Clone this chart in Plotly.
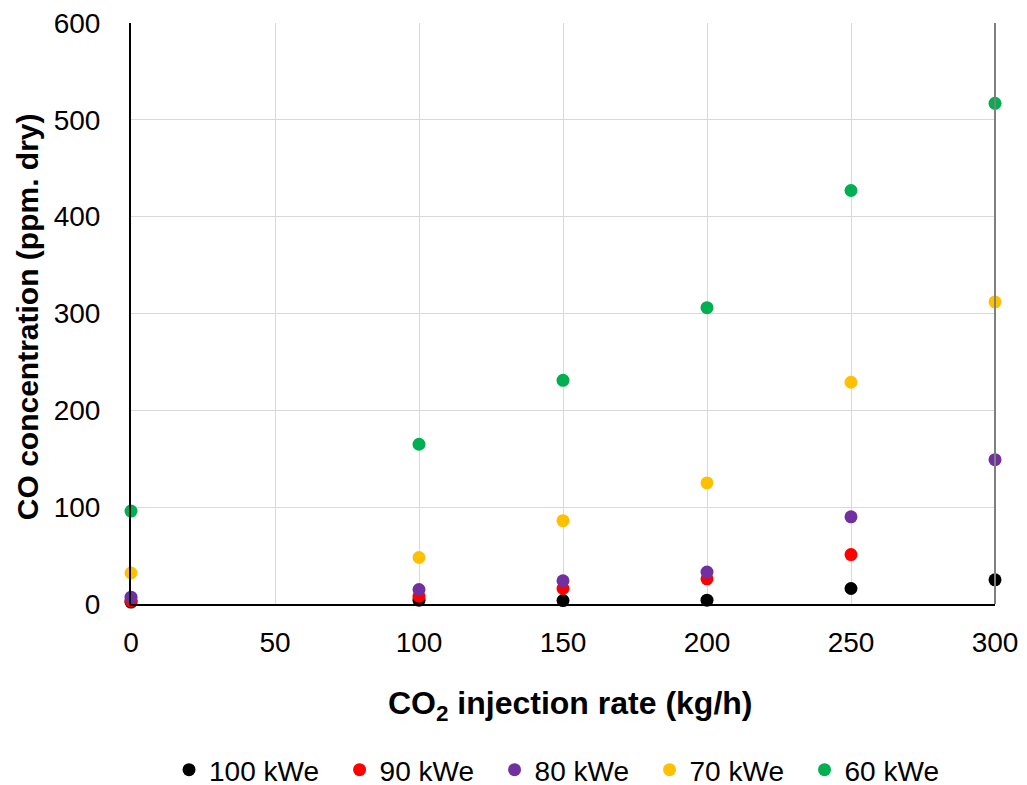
import plotly.graph_objects as go

# CO2 injection rate (kg/h)
injection_rate = [0, 100, 150, 200, 250, 300]

# CO concentration (ppm, dry) per electrical load
co_100kwe = [2, 4, 3.5, 4, 16, 25]
co_90kwe = [3, 8, 16, 26, 51, None]
co_80kwe = [7, 15, 24, 33, 90, 149]
co_70kwe = [32, 48, 86, 125, 229, 312]
co_60kwe = [96, 165, 231, 306, 427, 517]

series_names = ["100 kWe", "90 kWe", "80 kWe", "70 kWe", "60 kWe"]
series_values = [co_100kwe, co_90kwe, co_80kwe, co_70kwe, co_60kwe]
series_colors = ["#000000", "#ff0000", "#7030a0", "#ffc000", "#00b050"]

x_ticks = [0, 50, 100, 150, 200, 250, 300]
y_ticks = [0, 100, 200, 300, 400, 500, 600]

# Trailing non-breaking spaces widen the gap between legend entries
LEGEND_PAD = "\u00a0\u00a0"

fig = go.Figure()
for name, vals, color in zip(series_names, series_values, series_colors):
    fig.add_trace(go.Scatter(
        x=injection_rate, y=vals, name=name + LEGEND_PAD, mode="markers",
        marker=dict(size=13, color=color),
        cliponaxis=False,
    ))

font_family = "Liberation Sans, Arial, sans-serif"

fig.update_layout(
    width=1027, height=785,
    margin=dict(l=131, r=32, t=23, b=181, autoexpand=False),
    paper_bgcolor="white", plot_bgcolor="white",
    font=dict(family=font_family, size=28, color="black"),
    showlegend=True,
    legend=dict(
        orientation="h", x=0.044, xanchor="left", y=-0.2857, yanchor="middle",
        font=dict(size=28), itemsizing="trace",
    ),
    xaxis=dict(
        range=[0, 300], tickvals=x_ticks, ticktext=[str(v) for v in x_ticks],
        showgrid=True, gridcolor="#d9d9d9", gridwidth=1,
        zeroline=False, showline=True, linecolor="black", linewidth=2,
        ticks="", ticklabelstandoff=12, automargin=False,
        tickfont=dict(size=28),
    ),
    yaxis=dict(
        range=[0, 600], tickvals=y_ticks, ticktext=[str(v) for v in y_ticks],
        showgrid=True, gridcolor="#d9d9d9", gridwidth=1,
        zeroline=False, showline=True, linecolor="black", linewidth=2,
        ticks="", ticklabelstandoff=23, automargin=False,
        tickfont=dict(size=28),
    ),
)

# Axis titles
fig.add_annotation(
    text="<b>CO<sub>2</sub> injection rate (kg/h)</b>",
    xref="paper", yref="paper", x=0.508, y=-0.174,
    xanchor="center", yanchor="middle", showarrow=False,
    font=dict(size=32, family=font_family),
)
fig.add_annotation(
    text="<b>CO concentration (ppm. dry)</b>",
    xref="paper", yref="paper", x=-0.119, y=0.494,
    xanchor="center", yanchor="middle", textangle=-90, showarrow=False,
    font=dict(size=30, family=font_family),
)

# Right frame edge in gray
fig.add_shape(type="line", xref="paper", yref="paper", x0=1, x1=1, y0=0, y1=1,
              line=dict(color="#7f7f7f", width=2))

fig.write_html("out.html")
